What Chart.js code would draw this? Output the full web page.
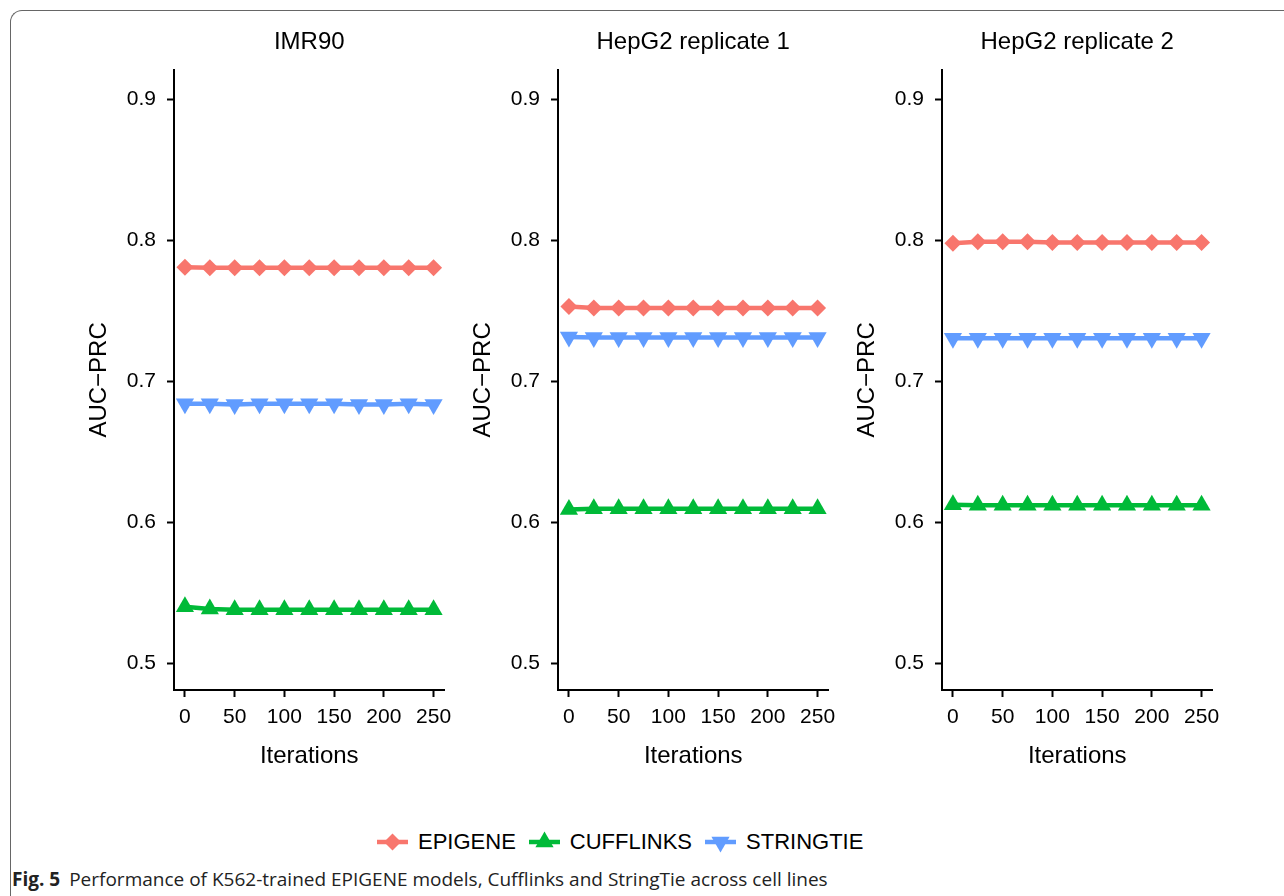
<!DOCTYPE html>
<html>
<head>
<meta charset="utf-8">
<script src="https://cdn.jsdelivr.net/npm/chart.js@4.4.0/dist/chart.umd.min.js"></script>
<style>
  html, body { margin: 0; padding: 0; background: #fff; width: 1284px; height: 896px; overflow: hidden; }
  #frame {
    position: absolute; left: 10px; top: 10px; width: 1300px; height: 900px;
    border-top: 1.5px solid #666; border-left: 1.5px solid #666;
    border-top-left-radius: 12px;
  }
  canvas.panel { position: absolute; top: 20px; }
  #legend {
    position: absolute; left: 377px; top: 829px; height: 26px;
    display: flex; align-items: center;
    font-family: "Liberation Sans", Arial, sans-serif; font-size: 22px; color: #000;
  }
  #legend canvas { margin-right: 10px; }
  #legend span { margin-right: 13px; }
  #caption {
    position: absolute; left: 12px; top: 866px; white-space: nowrap;
    font-family: "Open Sans", "Noto Sans", sans-serif; font-size: 19px; color: #222;
  }
  #caption b { margin-right: 9px; }
</style>
</head>
<body>
<div id="frame"></div>
<canvas class="panel" id="p0" width="385" height="760" style="left:70px"></canvas>
<canvas class="panel" id="p1" width="385" height="760" style="left:454px"></canvas>
<canvas class="panel" id="p2" width="385" height="760" style="left:838px"></canvas>
<div id="legend"></div>
<div id="caption"><b>Fig. 5</b>Performance of K562-trained EPIGENE models, Cufflinks and StringTie across cell lines</div>

<script>
// ---------------------------------------------------------------------------
// Data
// ---------------------------------------------------------------------------

const iterations = [0, 25, 50, 75, 100, 125, 150, 175, 200, 225, 250];
const xTicks = [0, 50, 100, 150, 200, 250];
const yTicks = [0.5, 0.6, 0.7, 0.8, 0.9];
const panelTitles = ['IMR90', 'HepG2 replicate 1', 'HepG2 replicate 2'];
const seriesNames = ['EPIGENE', 'CUFFLINKS', 'STRINGTIE'];

const imr90Epigene   = [0.781, 0.7805, 0.7805, 0.7805, 0.7805, 0.7805, 0.7805, 0.7805, 0.7805, 0.7805, 0.7805];
const imr90Cufflinks = [0.540, 0.5385, 0.538, 0.538, 0.538, 0.538, 0.538, 0.538, 0.538, 0.538, 0.538];
const imr90Stringtie = [0.684, 0.684, 0.6835, 0.684, 0.684, 0.684, 0.684, 0.6835, 0.6835, 0.684, 0.6835];

const hep1Epigene   = [0.753, 0.752, 0.752, 0.752, 0.752, 0.752, 0.752, 0.752, 0.752, 0.752, 0.752];
const hep1Cufflinks = [0.609, 0.6095, 0.6095, 0.6095, 0.6095, 0.6095, 0.6095, 0.6095, 0.6095, 0.6095, 0.6095];
const hep1Stringtie = [0.7315, 0.731, 0.731, 0.731, 0.731, 0.731, 0.731, 0.731, 0.731, 0.731, 0.731];

const hep2Epigene   = [0.798, 0.799, 0.799, 0.799, 0.7985, 0.7985, 0.7985, 0.7985, 0.7985, 0.7985, 0.7985];
const hep2Cufflinks = [0.6125, 0.612, 0.612, 0.612, 0.612, 0.612, 0.612, 0.612, 0.612, 0.612, 0.612];
const hep2Stringtie = [0.7305, 0.7305, 0.7305, 0.7305, 0.7305, 0.7305, 0.7305, 0.7305, 0.7305, 0.7305, 0.7305];

const panelSeries = [
  [imr90Epigene, imr90Cufflinks, imr90Stringtie],
  [hep1Epigene, hep1Cufflinks, hep1Stringtie],
  [hep2Epigene, hep2Cufflinks, hep2Stringtie],
];

// ggplot default hues
const colors = ['#F8766D', '#00BA38', '#619CFF'];
const shapes = [
  { pointStyle: 'rectRot', radius: 8.5, rotation: 0 },
  { pointStyle: 'triangle', radius: 10.5, rotation: 0 },
  { pointStyle: 'triangle', radius: 10.5, rotation: 180 },
];

const FONT = '"Liberation Sans", Arial, sans-serif';

// ---------------------------------------------------------------------------
// Panels
// ---------------------------------------------------------------------------

function makePanel(canvasId, title, series) {
  const datasets = series.map((vals, i) => ({
    label: seriesNames[i],
    data: iterations.map((x, j) => ({ x, y: vals[j] })),
    borderColor: colors[i],
    backgroundColor: colors[i],
    borderWidth: 4.5,
    pointStyle: shapes[i].pointStyle,
    pointRadius: shapes[i].radius,
    pointRotation: shapes[i].rotation,
    pointBackgroundColor: colors[i],
    pointBorderColor: colors[i],
    pointBorderWidth: 0,
    tension: 0,
  }));

  return new Chart(document.getElementById(canvasId), {
    type: 'line',
    data: { datasets },
    options: {
      responsive: false,
      animation: false,
      layout: { padding: { right: 10, left: 0, top: 0, bottom: 0 } },
      plugins: {
        legend: { display: false },
        tooltip: { enabled: false },
        title: {
          display: true,
          text: title,
          fullSize: false,
          color: '#000',
          font: { family: FONT, size: 24, weight: 'normal' },
          padding: { top: 8, bottom: 13 },
        },
      },
      scales: {
        x: {
          type: 'linear',
          min: -11,
          max: 261,
          afterBuildTicks: s => { s.ticks = xTicks.map(v => ({ value: v })); },
          afterFit: s => { s.height = 90; s.paddingLeft = 0; s.paddingRight = 0; },
          border: { display: true, color: '#000', width: 2 },
          grid: { display: true, drawOnChartArea: false, drawTicks: true, tickLength: 7, tickColor: '#000', tickWidth: 2 },
          ticks: { color: '#000', font: { family: FONT, size: 21 }, padding: 8, maxRotation: 0 },
          title: {
            display: true, text: 'Iterations', color: '#000',
            font: { family: FONT, size: 24 }, padding: { top: 0, bottom: 9 },
          },
        },
        y: {
          min: 0.481,
          max: 0.921,
          afterBuildTicks: s => { s.ticks = yTicks.map(v => ({ value: v })); },
          afterFit: s => { s.width = 104; s.paddingTop = 0; s.paddingBottom = 0; },
          border: { display: true, color: '#000', width: 2 },
          grid: { display: true, drawOnChartArea: false, drawTicks: true, tickLength: 7, tickColor: '#000', tickWidth: 2 },
          ticks: { color: '#000', font: { family: FONT, size: 21 }, padding: 11, callback: v => v.toFixed(1) },
          title: {
            display: true, text: 'AUC\u2212PRC', color: '#000',
            font: { family: FONT, size: 24 }, padding: { top: 15, bottom: 0 },
          },
        },
      },
    },
  });
}

panelTitles.forEach((t, i) => makePanel('p' + i, t, panelSeries[i]));

// ---------------------------------------------------------------------------
// Legend (line + marker keys, like ggplot)
// ---------------------------------------------------------------------------

const legendEl = document.getElementById('legend');
seriesNames.forEach((name, i) => {
  const cv = document.createElement('canvas');
  cv.width = 31; cv.height = 26;
  const ctx = cv.getContext('2d');
  ctx.strokeStyle = colors[i];
  ctx.lineWidth = 4.5;
  ctx.beginPath(); ctx.moveTo(0, 13); ctx.lineTo(31, 13); ctx.stroke();
  ctx.fillStyle = colors[i];
  Chart.helpers.drawPoint(ctx, {
    pointStyle: shapes[i].pointStyle, radius: shapes[i].radius,
    rotation: shapes[i].rotation, borderWidth: 0,
  }, 15.5, 13);
  legendEl.appendChild(cv);
  const sp = document.createElement('span');
  sp.textContent = name;
  legendEl.appendChild(sp);
});
</script>
</body>
</html>
